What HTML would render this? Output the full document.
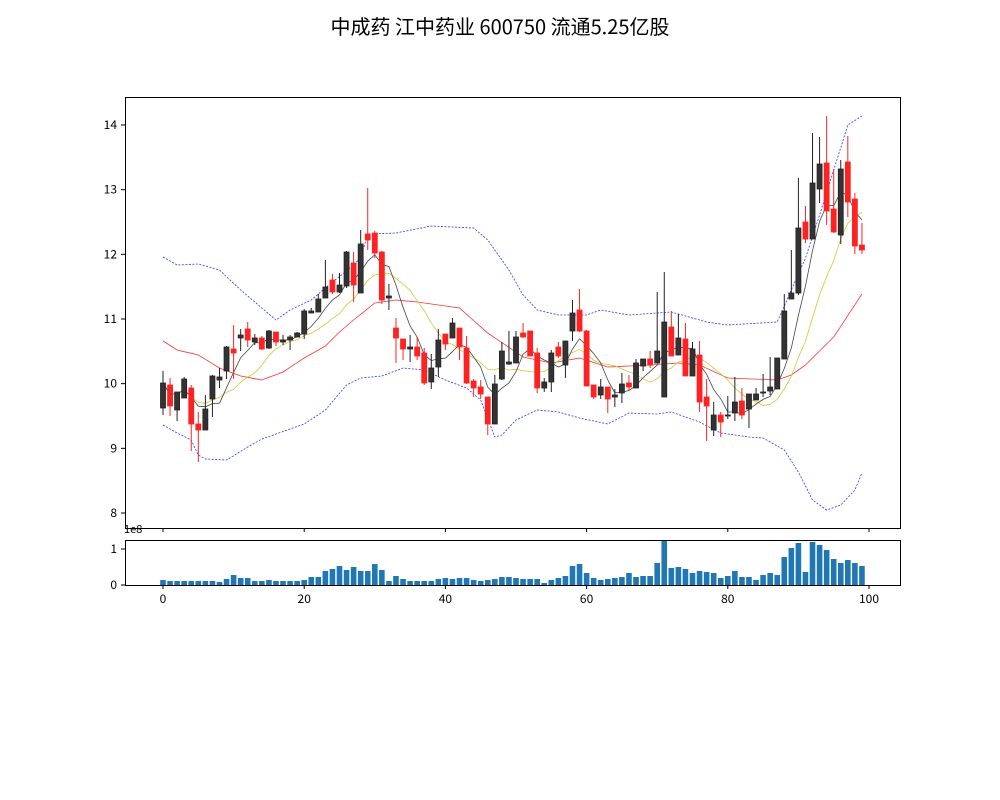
<!DOCTYPE html>
<html><head><meta charset="utf-8"><style>
body{margin:0;background:#fff;width:1000px;height:800px;overflow:hidden}
svg{display:block}
text{font-family:"WenQuanYi Zen Hei","Noto Sans CJK SC",sans-serif;font-size:12px;fill:#000}
</style></head><body>
<svg id="s" width="1000" height="800" xmlns="http://www.w3.org/2000/svg">
<text x="500" y="34" text-anchor="middle" style="font-size:20px">中成药 江中药业 600750 流通5.25亿股</text>
<g id="g"></g>
<rect x="125.5" y="97.5" width="775" height="431" fill="none" stroke="#000"/>
<rect x="125.5" y="540.5" width="775" height="45" fill="none" stroke="#000"/>
<text x="124" y="533" style="font-size:11px">1e8</text>
</svg>
<script>
const C=[[383,408,371,415,'b'],[385,406,378,416,'r'],[392,410,392,421,'b'],[379,398,377,398,'b'],[388,424,385,451,'r'],[424,430,412,462,'r'],[409,430,395,430,'b'],[376,399,375,417,'b'],[377,380,368,388,'b'],[347,371,346,379,'b'],
[349,353,325,379,'r'],[335,338,329,351,'b'],[329,340,322,347,'r'],[338,342,334,345,'b'],[338,349,336,350,'r'],[331,348,330,349,'b'],[332,342,332,346,'r'],[340,342,335,345,'b'],[337,340,335,350,'b'],[333,337,332,337,'b'],
[311,334,309,339,'b'],[311,313,308,313,'b'],[299,312,294,312,'b'],[287,298,260,298,'b'],[280,292,274,294,'r'],[285,292,273,293,'b'],[252,286,251,288,'b'],[263,285,252,302,'r'],[244,293,230,293,'b'],[234,240,188,250,'r'],
[233,253,231,258,'r'],[252,300,251,304,'r'],[296,298,284,310,'b'],[328,338,318,363,'r'],[339,349,339,360,'r'],[347,349,335,362,'b'],[347,356,337,360,'r'],[353,383,348,385,'r'],[368,382,354,389,'b'],[340,367,329,377,'b'],
[334,344,334,350,'r'],[323,338,318,338,'b'],[328,347,328,360,'r'],[348,383,336,384,'r'],[381,388,379,397,'r'],[387,394,380,399,'r'],[397,424,397,435,'r'],[384,424,375,424,'b'],[351,379,342,380,'b'],[362,364,331,365,'b'],
[337,363,331,363,'b'],[333,337,323,338,'r'],[331,356,331,356,'r'],[353,388,348,393,'r'],[382,388,378,392,'b'],[353,382,350,392,'b'],[347,356,342,358,'r'],[341,365,341,378,'b'],[313,331,300,341,'b'],[310,331,289,332,'r'],
[331,386,330,386,'r'],[385,397,385,399,'r'],[387,395,379,399,'b'],[387,399,387,413,'r'],[395,397,389,407,'b'],[384,393,373,403,'b'],[383,387,375,391,'r'],[363,388,359,388,'b'],[359,366,359,371,'b'],[359,365,351,368,'r'],
[351,363,292,363,'b'],[322,397,272,397,'b'],[327,356,311,356,'r'],[338,355,314,355,'b'],[339,376,323,376,'r'],[349,376,342,376,'b'],[355,402,341,412,'r'],[397,406,379,441,'r'],[415,430,402,436,'b'],[415,422,412,437,'r'],
[415,416,396,419,'b'],[402,413,377,421,'b'],[401,415,388,419,'r'],[394,409,394,428,'b'],[394,400,388,400,'b'],[392,393,374,397,'b'],[387,391,357,395,'b'],[358,389,358,389,'b'],[311,359,294,359,'b'],[293,299,250,299,'b'],
[228,293,178,295,'b'],[222,239,206,243,'r'],[183,239,133,239,'b'],[164,189,137,203,'b'],[163,211,116,225,'r'],[209,232,169,233,'r'],[169,235,160,244,'b'],[162,202,136,217,'r'],[199,246,193,254,'r'],[245,250,223,254,'r']];
const V=[580,581,581,581,581,581,581,581,582,579,575,578,578,581,581,580,581,581,581,581,580,577,577,571,569,566,570,567,571,571,564,570,581,576,579,581,581,581,581,579,578,579,578,578,580,581,580,579,577,577,578,579,579,579,583,580,578,576,566,564,573,578,580,579,578,577,573,577,576,576,563,541,568,567,569,573,571,572,573,578,576,571,577,577,580,575,573,575,557,548,543,572,542,545,550,559,563,560,563,566];
const X=i=>163+7.06*i;
function interp(pts){const o=[];for(let i=0;i<100;i++){let k=0;while(k<pts.length-2&&pts[k+1][0]<i)k++;const [a,ya]=pts[k],[b,yb]=pts[k+1];o.push(ya+(yb-ya)*(i-a)/(b-a));}return o;}
function path(ys){return ys.map((y,i)=>(i?'L':'M')+X(i).toFixed(1)+' '+y.toFixed(1)).join('');}
let h='';
const up=interp([[0,257],[2,265],[5,264],[8,270],[11,290],[14,308],[16,320],[18,310],[21,300],[24,282],[26,271],[28,258],[29,234],[33,233],[38,226],[44,228],[46,240],[49,270],[51,295],[53,310],[56,315],[60,315],[62,310],[66,315],[72,312],[77,322],[80,325],[87,322],[89,290],[91,258],[93,215],[95,170],[97,125],[99,116]]);
const lo=interp([[0,425],[2,433],[4,440],[5,455],[6,459],[9,460],[12,447],[14,439],[18,429],[20,424],[23,410],[26,385],[28,378],[31,376],[34,368],[37,370],[40,380],[43,388],[45,400],[47,437],[48,435],[50,420],[53,410],[56,412],[59,418],[63,424],[66,413],[70,414],[72,412],[76,422],[79,433],[83,437],[85,438],[88,450],[90,472],[92,500],[94,510],[96,505],[98,490],[99,473]]);
const m20=interp([[0,341],[2,350],[5,355],[8,368],[11,376],[14,380],[17,372],[20,358],[23,346],[25,332],[27,320],[30,303],[33,300],[36,302],[42,308],[46,333],[51,357],[55,363],[59,358],[63,367],[69,365],[73,363],[76,365],[80,378],[87,380],[89,375],[91,365],[95,337],[99,294]]);
const cl=C.map(c=>c[4]=='b'?c[0]:c[1]);
function ma(n){return cl.map((_,i)=>{const s=cl.slice(Math.max(0,i-n+1),i+1);return s.reduce((a,b)=>a+b,0)/s.length;});}
h+=`<path d="${path(up)}" fill="none" stroke="#33f" stroke-width="0.8" stroke-dasharray="2,1.5"/>`;
h+=`<path d="${path(lo)}" fill="none" stroke="#33f" stroke-width="0.8" stroke-dasharray="2,1.5"/>`;
h+=`<path d="${path(m20)}" fill="none" stroke="#f33" stroke-width="0.8"/>`;
h+=`<path d="${path(ma(10))}" fill="none" stroke="#cc3" stroke-width="0.8"/>`;
h+=`<path d="${path(ma(5))}" fill="none" stroke="#444" stroke-width="0.8"/>`;
C.forEach((c,i)=>{const x=X(i),col=c[4]=='b'?'#222':'#f22';
h+=`<line x1="${x}" x2="${x}" y1="${c[2]}" y2="${c[3]}" stroke="${col}" stroke-width="1"/>`;
h+=`<rect x="${x-2.5}" y="${c[0]}" width="5" height="${Math.max(1,c[1]-c[0])}" fill="${c[4]=='b'?'#333':'#f22'}" stroke="${col}" stroke-width="0.8"/>`;});
V.forEach((v,i)=>{h+=`<rect x="${X(i)-2.8}" y="${v}" width="5.6" height="${585-v}" fill="#1f77b4"/>`;});
for(let v=8;v<=14;v++){const y=513-(v-8)*64.67;h+=`<line x1="121" x2="125" y1="${y}" y2="${y}" stroke="#000"/><text x="117" y="${y+4}" text-anchor="end">${v}</text>`;}
[[0,585],[1,549]].forEach(([v,y])=>{h+=`<line x1="121" x2="125" y1="${y}" y2="${y}" stroke="#000"/><text x="117" y="${y+4}" text-anchor="end">${v}</text>`;});
for(let t=0;t<=100;t+=20){const x=X(t);h+=`<line x1="${x}" x2="${x}" y1="528" y2="532" stroke="#000"/><line x1="${x}" x2="${x}" y1="585" y2="589" stroke="#000"/><text x="${x}" y="603" text-anchor="middle">${t}</text>`;}
document.getElementById('g').innerHTML=h;
</script>
</body></html>
